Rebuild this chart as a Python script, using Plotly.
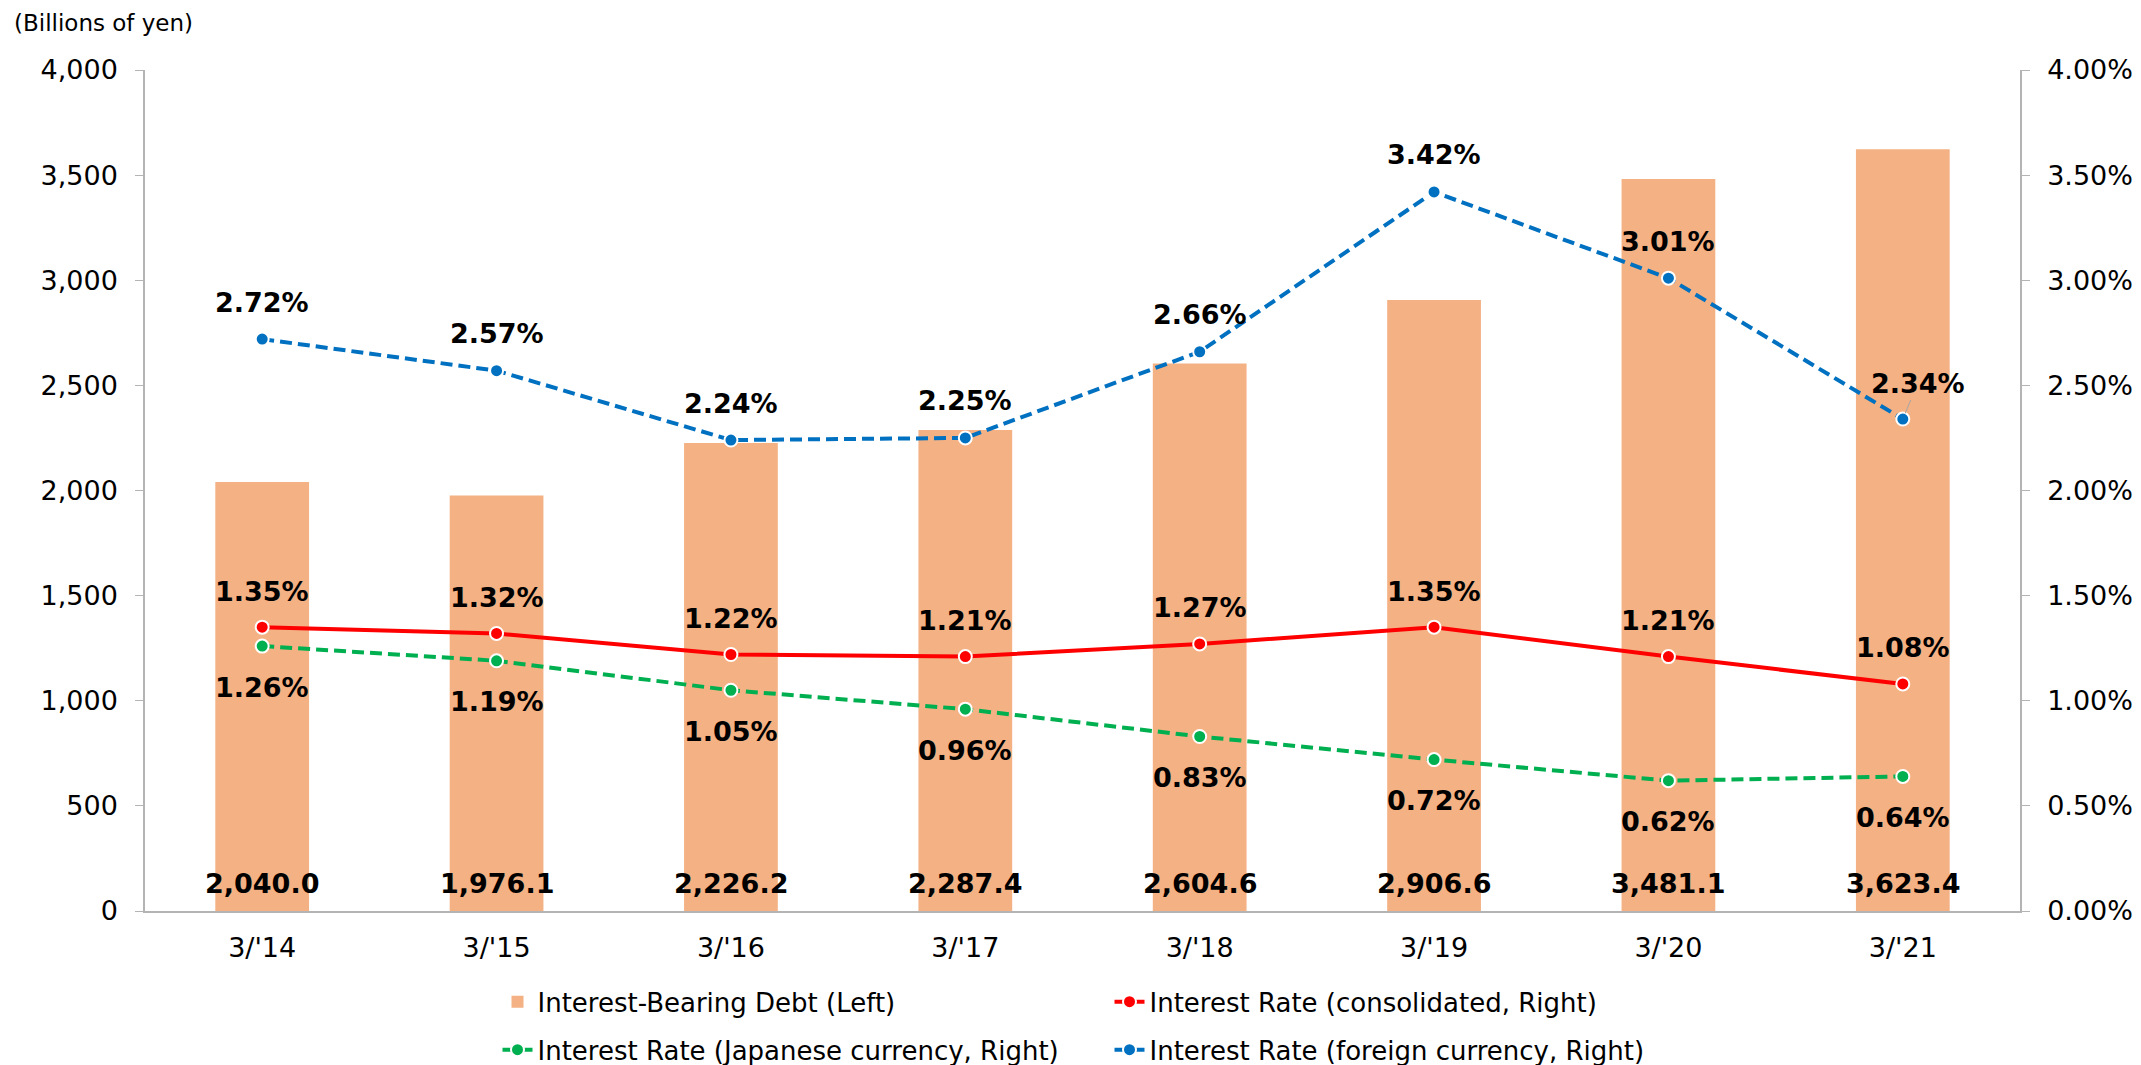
import plotly.graph_objects as go

# Fiscal year-ends
categories = ["3/'14", "3/'15", "3/'16", "3/'17", "3/'18", "3/'19", "3/'20", "3/'21"]

# Interest-bearing debt, billions of yen (left axis)
debt = [2040.0, 1976.1, 2226.2, 2287.4, 2604.6, 2906.6, 3481.1, 3623.4]

# Interest rates, % (right axis)
rate_consolidated = [1.35, 1.32, 1.22, 1.21, 1.27, 1.35, 1.21, 1.08]
rate_japanese = [1.26, 1.19, 1.05, 0.96, 0.83, 0.72, 0.62, 0.64]
rate_foreign = [2.72, 2.57, 2.24, 2.25, 2.66, 3.42, 3.01, 2.34]

FONT = "DejaVu Sans"
BAR_COLOR = "#F4B183"
RED = "#FF0000"
GREEN = "#00B050"
BLUE = "#0070C0"
AXIS_COLOR = "#B4B4B4"

fig = go.Figure()

fig.add_trace(go.Bar(
    x=categories, y=debt, name="Interest-Bearing Debt (Left)",
    marker=dict(color=BAR_COLOR, line=dict(width=0)),
    yaxis="y", legend="legend",
))

marker_style = lambda c: dict(size=13, color=c, line=dict(color="white", width=2))

fig.add_trace(go.Scatter(
    x=categories, y=rate_consolidated, name="Interest Rate (consolidated, Right)",
    mode="lines+markers", line=dict(color=RED, width=4),
    marker=marker_style(RED), yaxis="y2", legend="legend",
))
fig.add_trace(go.Scatter(
    x=categories, y=rate_japanese, name="Interest Rate (Japanese currency, Right)",
    mode="lines+markers", line=dict(color=GREEN, width=4, dash="12px,6px"),
    marker=marker_style(GREEN), yaxis="y2", legend="legend2",
))
fig.add_trace(go.Scatter(
    x=categories, y=rate_foreign, name="Interest Rate (foreign currency, Right)",
    mode="lines+markers", line=dict(color=BLUE, width=4, dash="12px,6px"),
    marker=marker_style(BLUE), yaxis="y2", legend="legend2",
))

annotations = []
label_font = dict(family=FONT, size=27, color="black", weight="bold")

# Debt values written at the foot of each bar
for c, v in zip(categories, debt):
    annotations.append(dict(
        x=c, y=0, xref="x", yref="y", text=f"{v:,.1f}", showarrow=False,
        yanchor="middle", yshift=28, font=label_font,
    ))

# Rate labels: consolidated and foreign above, Japanese below
for c, v in zip(categories, rate_consolidated):
    annotations.append(dict(
        x=c, y=v, xref="x", yref="y2", text=f"{v:.2f}%", showarrow=False,
        yanchor="middle", yshift=36, font=label_font,
    ))
for c, v in zip(categories, rate_japanese):
    annotations.append(dict(
        x=c, y=v, xref="x", yref="y2", text=f"{v:.2f}%", showarrow=False,
        yanchor="middle", yshift=-41, font=label_font,
    ))
for i, (c, v) in enumerate(zip(categories, rate_foreign)):
    if i == len(categories) - 1:
        annotations.append(dict(
            x=c, y=v, xref="x", yref="y2", text=f"{v:.2f}%", showarrow=True,
            ax=15, ay=-36, arrowhead=0, arrowwidth=1, arrowcolor="#A6A6A6",
            standoff=6, font=label_font,
        ))
    else:
        annotations.append(dict(
            x=c, y=v, xref="x", yref="y2", text=f"{v:.2f}%", showarrow=False,
            yanchor="middle", yshift=37, font=label_font,
        ))

# Unit caption above the left axis
annotations.append(dict(
    x=0, y=1, xref="paper", yref="paper", text="(Billions of yen)",
    showarrow=False, xanchor="left", yanchor="middle", xshift=-133, yshift=47,
    font=dict(family=FONT, size=23, color="black"),
))

tick_font = dict(family=FONT, size=27, color="black")
legend_common = dict(
    orientation="h", xanchor="left", yanchor="middle", x=0.188,
    font=dict(family=FONT, size=26, color="black"),
    entrywidth=567, entrywidthmode="pixels", bgcolor="rgba(0,0,0,0)",
    itemclick=False, itemdoubleclick=False,
)

fig.update_layout(
    width=2141, height=1065,
    margin=dict(l=145, r=121, t=70, b=154, autoexpand=False),
    paper_bgcolor="white", plot_bgcolor="white",
    bargap=0.6,
    showlegend=True,
    legend=dict(**legend_common, y=-0.108),
    legend2=dict(**legend_common, y=-0.165),
    xaxis=dict(
        type="category", showgrid=False, showline=True, linecolor=AXIS_COLOR,
        linewidth=1.5, ticks="", tickfont=tick_font, ticklabelstandoff=12,
    ),
    yaxis=dict(
        range=[0, 4000], dtick=500, tickformat=",", showgrid=False,
        showline=True, linecolor=AXIS_COLOR, linewidth=1.5, ticks="outside",
        ticklen=8, tickcolor=AXIS_COLOR, tickfont=tick_font,
        ticklabelstandoff=12, zeroline=False,
    ),
    yaxis2=dict(
        range=[0, 4], dtick=0.5, tickformat=".2f", ticksuffix="%",
        overlaying="y", side="right", showgrid=False, showline=True,
        linecolor=AXIS_COLOR, linewidth=1.5, ticks="outside", ticklen=8,
        tickcolor=AXIS_COLOR, tickfont=tick_font, ticklabelstandoff=12,
        zeroline=False,
    ),
    annotations=annotations,
)

fig.write_html("out.html")
